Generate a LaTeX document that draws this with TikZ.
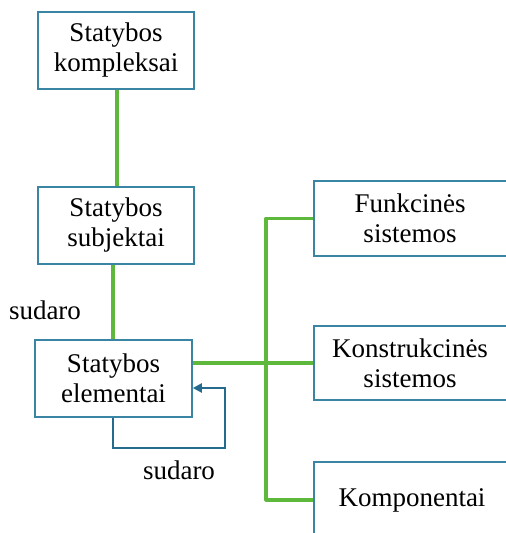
\documentclass[tikz,border=0pt]{standalone}
\usepackage{fontspec}
\setmainfont{Liberation Serif}
\usetikzlibrary{arrows.meta}
\definecolor{boxblue}{HTML}{3A84A4}
\definecolor{lgreen}{HTML}{5EB83C}
\definecolor{arrblue}{HTML}{246B8E}
\begin{document}
\begin{tikzpicture}[x=1pt,y=-1pt,
  box/.style={draw=boxblue,line width=1.6pt,fill=white,align=center,inner sep=0pt,
    font=\fontsize{27}{30}\selectfont},
  glink/.style={draw=lgreen,line width=3.2pt},
  lbl/.style={font=\fontsize{27}{30}\selectfont,inner sep=0pt}]
\useasboundingbox (0,0) rectangle (506,533);
\clip (0,0) rectangle (506,533);
% left column
\node[box,minimum width=156pt,minimum height=77pt] (B1) at (116,50.5) {Statybos\\kompleksai};
\node[box,minimum width=156pt,minimum height=77pt] (B2) at (116,225.5) {Statybos\\subjektai};
\node[box,minimum width=157pt,minimum height=77pt] (B3) at (113.5,378.5) {Statybos\\elementai};
% right column
\node[box,minimum width=196pt,minimum height=75pt,text width=196pt] (F) at (412,218.5) {\hspace*{-4pt}Funkcinės\\\hspace*{-4pt}sistemos};
\node[box,minimum width=196pt,minimum height=74pt,text width=196pt] (K) at (412,363) {\hspace*{-4pt}Konstrukcinės\\\hspace*{-4pt}sistemos};
\node[box,minimum width=196pt,minimum height=76pt,text width=196pt] (C) at (412,500) {Komponentai};
\coordinate (T) at (266,0);
% green connectors
\draw[glink] (B1.south -| 117,0) -- (B2.north -| 117,0);
\draw[glink] (B2.south -| 113,0) -- (B3.north -| 113,0);
\draw[glink] (B3.east |- K.west) -- (K.west);
\draw[glink,line join=round] (F.west) -- (F.west -| T) -- (C.west -| T) -- (C.west);
% labels
\node[lbl] (s1) at (45,310) {sudaro};
\node[lbl] (s2) at (179,470) {sudaro};
% self loop
\coordinate (L) at (225,448);
\draw[arrblue,line width=2.2pt,-{Triangle[length=9pt,width=9pt]}]
  (B3.south -| 113,0) |- (L) |- ([yshift=-9.5pt]B3.east);
\end{tikzpicture}
\end{document}
